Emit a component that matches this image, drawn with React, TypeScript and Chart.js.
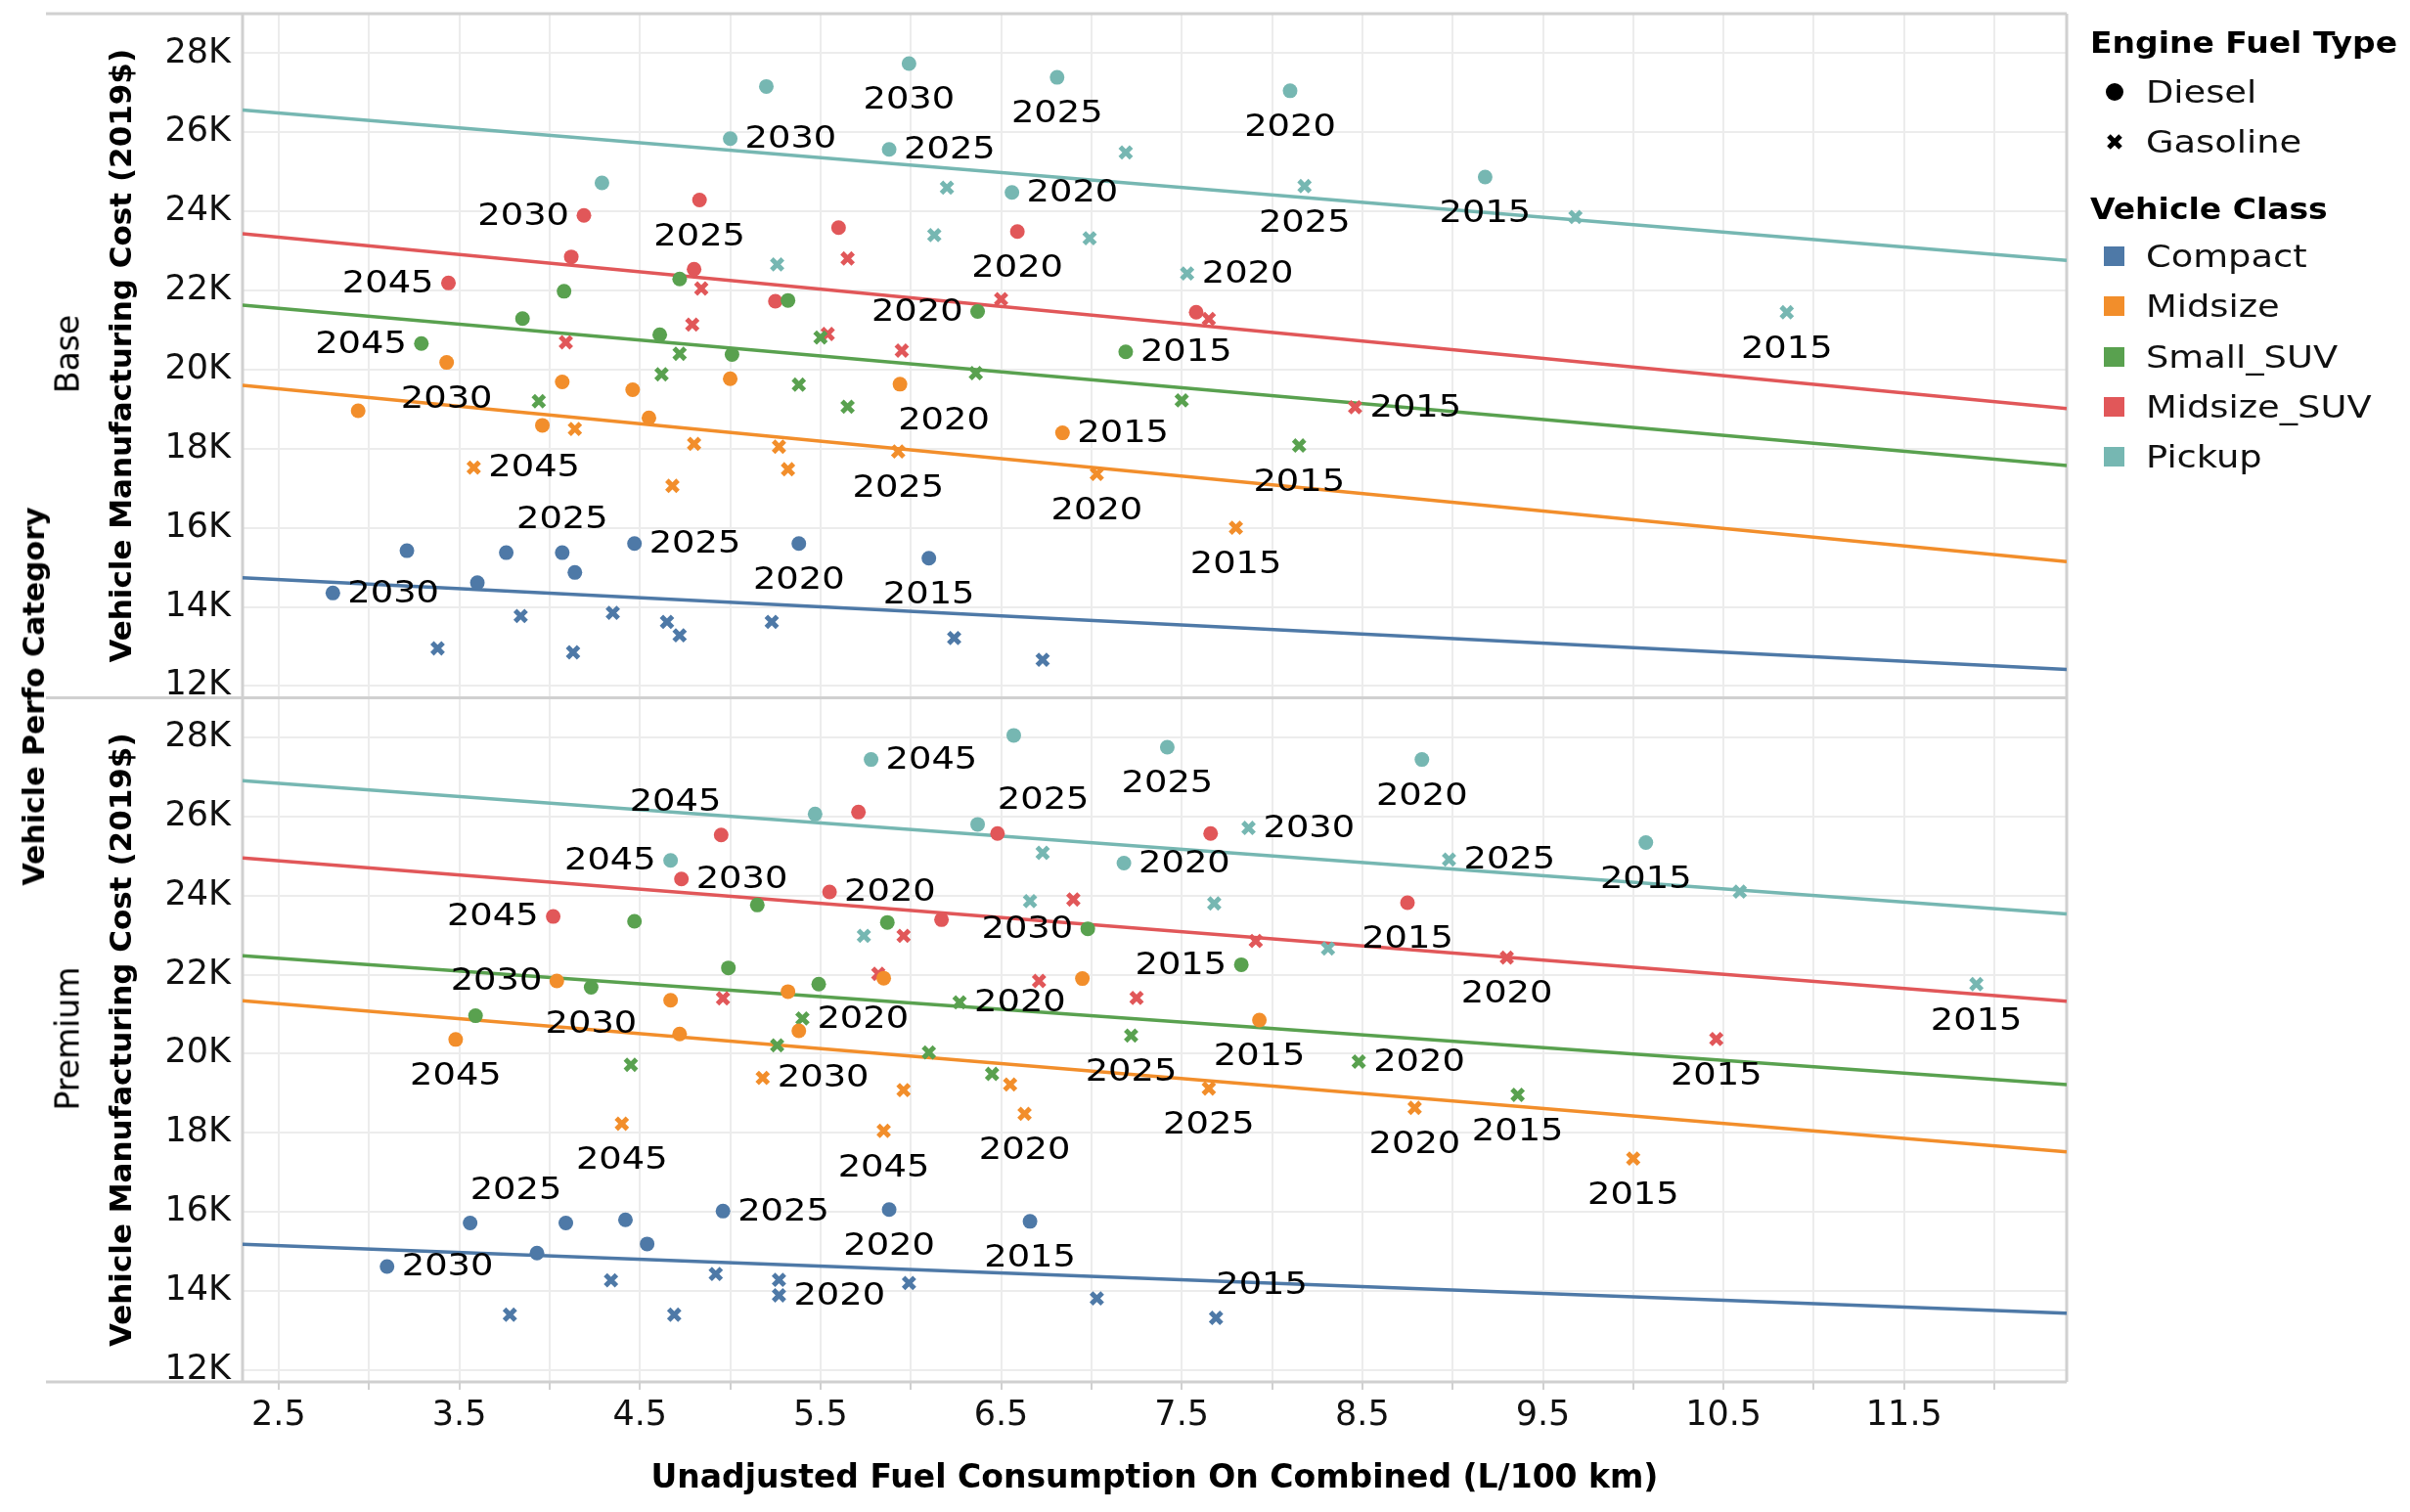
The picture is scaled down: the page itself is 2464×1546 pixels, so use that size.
import React, { useEffect, useRef } from 'react';
import { Chart, registerables } from 'chart.js';

Chart.register(...registerables);

type Pt = [number, number];
type Lbl = [string, string, number, string];

const FONT = '"DejaVu Sans", sans-serif';

// ---------- categories ----------
const PANELS = ['Base', 'Premium'];
const CLASSES = ['Compact', 'Midsize', 'Small_SUV', 'Midsize_SUV', 'Pickup'];
const CLASS_COLORS = ['#4e79a7', '#f28e2b', '#59a14f', '#e15759', '#76b7b2'];
const FUELS = ['Diesel', 'Gasoline'];

// ---------- axes ----------
const X_RANGE = [2.3, 12.4];
const Y_RANGE = [11700, 29000];
const X_GRID = [2.5, 3, 3.5, 4, 4.5, 5, 5.5, 6, 6.5, 7, 7.5, 8, 8.5, 9, 9.5, 10, 10.5, 11, 11.5, 12];
const X_TICK_LABELS = ['2.5', '3.5', '4.5', '5.5', '6.5', '7.5', '8.5', '9.5', '10.5', '11.5'];
const Y_TICKS = [12000, 14000, 16000, 18000, 20000, 22000, 24000, 26000, 28000];

const X_TITLE = 'Unadjusted Fuel Consumption On Combined (L/100 km)';
const Y_TITLE = 'Vehicle Manufacturing Cost (2019$)';
const ROW_TITLE = 'Vehicle Perfo Category';
const LEGEND_FUEL_TITLE = 'Engine Fuel Type';
const LEGEND_CLASS_TITLE = 'Vehicle Class';

// ---------- Base panel: [fuel consumption L/100km, cost 2019$] ----------
const BASE_COMPACT_DIESEL: Pt[] = [[2.80, 14350], [3.21, 15420], [3.60, 14610], [3.76, 15370], [4.07, 15370], [4.14, 14870], [4.47, 15600], [5.38, 15600], [6.10, 15230]];
const BASE_COMPACT_GASOLINE: Pt[] = [[3.38, 12950], [3.84, 13770], [4.13, 12850], [4.35, 13850], [4.65, 13620], [4.72, 13280], [5.23, 13620], [6.24, 13210], [6.73, 12660]];
const BASE_MIDSIZE_DIESEL: Pt[] = [[2.94, 18960], [3.43, 20180], [3.96, 18590], [4.07, 19690], [4.46, 19490], [4.55, 18780], [5.00, 19770], [5.94, 19630], [6.84, 18400]];
const BASE_MIDSIZE_GASOLINE: Pt[] = [[3.58, 17520], [4.14, 18500], [4.80, 18120], [4.68, 17060], [5.27, 18050], [5.32, 17480], [5.93, 17930], [7.03, 17360], [7.80, 16000]];
const BASE_SMALLSUV_DIESEL: Pt[] = [[3.29, 20660], [3.85, 21290], [4.08, 21980], [4.61, 20880], [4.72, 22290], [5.32, 21750], [5.01, 20380], [6.37, 21470], [7.19, 20450]];
const BASE_SMALLSUV_GASOLINE: Pt[] = [[3.94, 19200], [4.62, 19880], [4.72, 20400], [5.38, 19620], [5.50, 20810], [5.65, 19060], [6.36, 19910], [7.50, 19220], [8.15, 18080]];
const BASE_MIDSUV_DIESEL: Pt[] = [[3.44, 22190], [4.19, 23900], [4.12, 22850], [4.83, 24290], [4.80, 22540], [5.25, 21730], [5.60, 23590], [6.59, 23490], [7.58, 21450]];
const BASE_MIDSUV_GASOLINE: Pt[] = [[4.09, 20690], [4.84, 22050], [4.79, 21140], [5.54, 20900], [5.65, 22810], [5.95, 20480], [6.50, 21780], [7.65, 21280], [8.46, 19050]];
const BASE_PICKUP_DIESEL: Pt[] = [[4.29, 24720], [5.00, 25840], [5.20, 27160], [5.88, 25570], [5.99, 27740], [6.56, 24480], [6.81, 27390], [8.10, 27050], [9.18, 24870]];
const BASE_PICKUP_GASOLINE: Pt[] = [[5.26, 22660], [6.20, 24600], [6.13, 23400], [6.99, 23320], [7.19, 25490], [7.53, 22430], [8.18, 24640], [9.68, 23860], [10.85, 21450]];

// ---------- Premium panel ----------
const PREM_COMPACT_DIESEL: Pt[] = [[3.10, 14620], [3.56, 15720], [3.93, 14960], [4.09, 15720], [4.42, 15800], [4.54, 15190], [4.96, 16020], [5.88, 16060], [6.66, 15760]];
const PREM_COMPACT_GASOLINE: Pt[] = [[3.78, 13400], [4.34, 14270], [4.69, 13400], [4.92, 14430], [5.27, 14280], [5.27, 13890], [5.99, 14200], [7.03, 13810], [7.69, 13320]];
const PREM_MIDSIZE_DIESEL: Pt[] = [[3.48, 20360], [4.04, 21840], [4.67, 21350], [4.72, 20500], [5.32, 21570], [5.38, 20580], [5.85, 21910], [6.95, 21900], [7.93, 20850]];
const PREM_MIDSIZE_GASOLINE: Pt[] = [[4.40, 18230], [5.18, 19390], [5.85, 18050], [5.96, 19080], [6.55, 19220], [6.63, 18480], [7.65, 19120], [8.79, 18630], [10.00, 17350]];
const PREM_SMALLSUV_DIESEL: Pt[] = [[3.59, 20960], [4.23, 21680], [4.47, 23350], [4.99, 22170], [5.15, 23760], [5.49, 21760], [5.87, 23320], [6.98, 23160], [7.83, 22250]];
const PREM_SMALLSUV_GASOLINE: Pt[] = [[4.45, 19720], [5.40, 20890], [5.26, 20210], [6.10, 20030], [6.27, 21300], [6.45, 19490], [7.22, 20460], [8.48, 19800], [9.36, 18960]];
const PREM_MIDSUV_DIESEL: Pt[] = [[4.02, 23470], [4.73, 24420], [4.95, 25530], [5.71, 26110], [5.55, 24090], [6.17, 23390], [6.48, 25570], [7.66, 25570], [8.75, 23820]];
const PREM_MIDSUV_GASOLINE: Pt[] = [[4.96, 21400], [5.82, 22020], [5.96, 22980], [6.71, 21840], [6.90, 23900], [7.25, 21410], [7.91, 22850], [9.30, 22430], [10.46, 20370]];
const PREM_PICKUP_DIESEL: Pt[] = [[4.67, 24890], [5.47, 26060], [5.78, 27440], [6.37, 25800], [6.57, 28050], [7.18, 24820], [7.42, 27750], [8.83, 27440], [10.07, 25340]];
const PREM_PICKUP_GASOLINE: Pt[] = [[5.74, 22980], [6.73, 25080], [6.66, 23860], [7.68, 23800], [7.87, 25710], [8.31, 22660], [8.98, 24910], [10.59, 24100], [11.90, 21760]];

// ---------- year labels: [class, fuel, point index, year] ----------
const BASE_LABELS: Lbl[] = [
  ['Compact', 'Diesel', 0, '2030'], ['Compact', 'Diesel', 4, '2025'], ['Compact', 'Diesel', 6, '2025'], ['Compact', 'Diesel', 7, '2020'], ['Compact', 'Diesel', 8, '2015'],
  ['Midsize', 'Diesel', 1, '2030'], ['Midsize', 'Diesel', 7, '2020'], ['Midsize', 'Diesel', 8, '2015'],
  ['Midsize', 'Gasoline', 0, '2045'], ['Midsize', 'Gasoline', 6, '2025'], ['Midsize', 'Gasoline', 7, '2020'], ['Midsize', 'Gasoline', 8, '2015'],
  ['Small_SUV', 'Diesel', 0, '2045'], ['Small_SUV', 'Diesel', 7, '2020'], ['Small_SUV', 'Diesel', 8, '2015'],
  ['Small_SUV', 'Gasoline', 8, '2015'],
  ['Midsize_SUV', 'Diesel', 0, '2045'], ['Midsize_SUV', 'Diesel', 1, '2030'], ['Midsize_SUV', 'Diesel', 3, '2025'], ['Midsize_SUV', 'Diesel', 7, '2020'],
  ['Midsize_SUV', 'Gasoline', 8, '2015'],
  ['Pickup', 'Diesel', 1, '2030'], ['Pickup', 'Diesel', 3, '2025'], ['Pickup', 'Diesel', 4, '2030'], ['Pickup', 'Diesel', 5, '2020'], ['Pickup', 'Diesel', 6, '2025'], ['Pickup', 'Diesel', 7, '2020'], ['Pickup', 'Diesel', 8, '2015'],
  ['Pickup', 'Gasoline', 5, '2020'], ['Pickup', 'Gasoline', 6, '2025'], ['Pickup', 'Gasoline', 8, '2015'],
];
const BASE_LABEL_ALIGN = [
  'R', 'A', 'R', 'B', 'B',
  'B', 'BR', 'R',
  'R', 'B', 'B', 'B',
  'L', 'L', 'R',
  'B',
  'L', 'L', 'B', 'B',
  'R',
  'R', 'R', 'B', 'R', 'B', 'B', 'B',
  'R', 'B', 'B',
];
const PREM_LABELS: Lbl[] = [
  ['Compact', 'Diesel', 0, '2030'], ['Compact', 'Diesel', 1, '2025'], ['Compact', 'Diesel', 6, '2025'], ['Compact', 'Diesel', 7, '2020'], ['Compact', 'Diesel', 8, '2015'],
  ['Compact', 'Gasoline', 5, '2020'], ['Compact', 'Gasoline', 8, '2015'],
  ['Midsize', 'Diesel', 0, '2045'], ['Midsize', 'Diesel', 1, '2030'], ['Midsize', 'Diesel', 8, '2015'],
  ['Midsize', 'Gasoline', 0, '2045'], ['Midsize', 'Gasoline', 1, '2030'], ['Midsize', 'Gasoline', 2, '2045'], ['Midsize', 'Gasoline', 5, '2020'], ['Midsize', 'Gasoline', 6, '2025'], ['Midsize', 'Gasoline', 7, '2020'], ['Midsize', 'Gasoline', 8, '2015'],
  ['Small_SUV', 'Diesel', 1, '2030'], ['Small_SUV', 'Diesel', 7, '2030'], ['Small_SUV', 'Diesel', 8, '2015'],
  ['Small_SUV', 'Gasoline', 1, '2020'], ['Small_SUV', 'Gasoline', 4, '2020'], ['Small_SUV', 'Gasoline', 6, '2025'], ['Small_SUV', 'Gasoline', 7, '2020'], ['Small_SUV', 'Gasoline', 8, '2015'],
  ['Midsize_SUV', 'Diesel', 0, '2045'], ['Midsize_SUV', 'Diesel', 1, '2030'], ['Midsize_SUV', 'Diesel', 2, '2045'], ['Midsize_SUV', 'Diesel', 4, '2020'], ['Midsize_SUV', 'Diesel', 6, '2025'], ['Midsize_SUV', 'Diesel', 8, '2015'],
  ['Midsize_SUV', 'Gasoline', 7, '2020'], ['Midsize_SUV', 'Gasoline', 8, '2015'],
  ['Pickup', 'Diesel', 0, '2045'], ['Pickup', 'Diesel', 2, '2045'], ['Pickup', 'Diesel', 5, '2020'], ['Pickup', 'Diesel', 6, '2025'], ['Pickup', 'Diesel', 7, '2020'], ['Pickup', 'Diesel', 8, '2015'],
  ['Pickup', 'Gasoline', 4, '2030'], ['Pickup', 'Gasoline', 6, '2025'], ['Pickup', 'Gasoline', 8, '2015'],
];
const PREM_LABEL_ALIGN = [
  'R', 'AR', 'R', 'B', 'B',
  'R', 'AR',
  'B', 'L', 'B',
  'B', 'R', 'B', 'B', 'B', 'B', 'B',
  'B', 'L', 'L',
  'R', 'R', 'B', 'R', 'B',
  'L', 'R', 'AL', 'R', 'AR', 'B',
  'B', 'B',
  'L', 'R', 'R', 'B', 'B', 'B',
  'R', 'R', 'B',
];

// ---------- assembled tables (built from the arrays above) ----------
const PANEL_DATA: Pt[][][][] = [
  [
    [BASE_COMPACT_DIESEL, BASE_COMPACT_GASOLINE],
    [BASE_MIDSIZE_DIESEL, BASE_MIDSIZE_GASOLINE],
    [BASE_SMALLSUV_DIESEL, BASE_SMALLSUV_GASOLINE],
    [BASE_MIDSUV_DIESEL, BASE_MIDSUV_GASOLINE],
    [BASE_PICKUP_DIESEL, BASE_PICKUP_GASOLINE],
  ],
  [
    [PREM_COMPACT_DIESEL, PREM_COMPACT_GASOLINE],
    [PREM_MIDSIZE_DIESEL, PREM_MIDSIZE_GASOLINE],
    [PREM_SMALLSUV_DIESEL, PREM_SMALLSUV_GASOLINE],
    [PREM_MIDSUV_DIESEL, PREM_MIDSUV_GASOLINE],
    [PREM_PICKUP_DIESEL, PREM_PICKUP_GASOLINE],
  ],
];
const PANEL_LABELS = [BASE_LABELS, PREM_LABELS];
const PANEL_LABEL_ALIGN = [BASE_LABEL_ALIGN, PREM_LABEL_ALIGN];
const AXIS_IDS = ['yBase', 'yPrem'];

const SX = 1.15; // horizontal stretch of horizontal text in the reference

function linearFit(pts: Pt[]): [number, number] {
  const n = pts.length;
  let sx = 0, sy = 0, sxx = 0, sxy = 0;
  for (const [x, y] of pts) { sx += x; sy += y; sxx += x * x; sxy += x * y; }
  const b = (n * sxy - sx * sy) / (n * sxx - sx * sx);
  const a = (sy - b * sx) / n;
  return [a, b];
}

function buildDatasets() {
  const ds: any[] = [];
  PANEL_DATA.forEach((panel, pi) => {
    panel.forEach((fuels, ci) => {
      const color = CLASS_COLORS[ci];
      const [a, b] = linearFit(fuels[0].concat(fuels[1]));
      ds.push({
        label: `${PANELS[pi]} ${CLASSES[ci]} trend`,
        data: X_RANGE.map((x) => ({ x, y: a + b * x })),
        yAxisID: AXIS_IDS[pi],
        showLine: true,
        pointRadius: 0,
        borderColor: color,
        backgroundColor: color,
        borderWidth: 3.5,
        order: 2,
      });
      fuels.forEach((pts, fi) => {
        ds.push({
          label: `${PANELS[pi]} ${CLASSES[ci]} ${FUELS[fi]}`,
          data: pts.map(([x, y]) => ({ x, y })),
          yAxisID: AXIS_IDS[pi],
          pointStyle: fi === 0 ? 'circle' : 'crossRot',
          pointRadius: fi === 0 ? 7.5 : 8,
          backgroundColor: color,
          borderColor: color,
          borderWidth: fi === 0 ? 0 : 5,
          order: 1,
        });
      });
    });
  });
  return ds;
}

const framePlugin = {
  id: 'tableauFrame',
  beforeDatasetsDraw(chart: any) {
    const { ctx, chartArea: a } = chart;
    const mid = chart.scales.yBase.bottom;
    ctx.save();
    ctx.strokeStyle = '#d0d0d0';
    ctx.lineWidth = 3;
    ctx.beginPath();
    for (const y of [a.top, mid, a.bottom]) {
      ctx.moveTo(47, y);
      ctx.lineTo(a.right, y);
    }
    ctx.moveTo(a.left, a.top);
    ctx.lineTo(a.left, a.bottom);
    ctx.moveTo(a.right, a.top);
    ctx.lineTo(a.right, a.bottom);
    ctx.stroke();
    ctx.restore();
  },
};

const labelPlugin = {
  id: 'yearLabels',
  afterDatasetsDraw(chart: any) {
    const ctx = chart.ctx;
    const xs = chart.scales.x;
    ctx.save();
    ctx.font = `32px ${FONT}`;
    ctx.fillStyle = '#000';
    ctx.textBaseline = 'middle';
    ctx.textAlign = 'left';
    PANEL_LABELS.forEach((labels, pi) => {
      const ys = chart.scales[AXIS_IDS[pi]];
      const aligns = PANEL_LABEL_ALIGN[pi];
      labels.forEach(([cls, fuel, idx, text], li) => {
        const pts = PANEL_DATA[pi][CLASSES.indexOf(cls)][FUELS.indexOf(fuel)];
        const [xv, yv] = pts[idx];
        const px = xs.getPixelForValue(xv);
        const py = ys.getPixelForValue(yv);
        const w = ctx.measureText(text).width * SX;
        let left = px;
        let cy = py;
        switch (aligns[li]) {
          case 'R': left = px + 15; break;
          case 'L': left = px - 15 - w; break;
          case 'B': left = px - w / 2; cy = py + 37; break;
          case 'A': left = px - w / 2; cy = py - 34; break;
          case 'BR': left = px - 2; cy = py + 37; break;
          case 'AR': left = px; cy = py - 34; break;
          case 'AL': left = px - w; cy = py - 34; break;
        }
        ctx.save();
        ctx.translate(left, cy + 1);
        ctx.scale(SX, 1);
        ctx.fillText(text, 0, 0);
        ctx.restore();
      });
    });
    ctx.restore();
  },
};

function yScale(weight: number) {
  return {
    type: 'linear',
    position: 'left',
    stack: 'panels',
    stackWeight: 1,
    weight,
    min: Y_RANGE[0],
    max: Y_RANGE[1],
    afterBuildTicks: (s: any) => { s.ticks = Y_TICKS.map((v) => ({ value: v })); },
    afterFit: (s: any) => {
      s.width = 248;
      s.paddingTop = 0;
      s.paddingBottom = 0;
      s.paddingLeft = 0;
      s.paddingRight = 0;
    },
    ticks: {
      callback: (v: any) => `${Math.round(Number(v) / 1000)}K`,
      font: { family: FONT, size: 35 },
      color: '#111',
      padding: 12,
    },
    grid: { color: '#ececec', lineWidth: 2, drawTicks: false },
    border: { display: false },
    title: {
      display: true,
      text: Y_TITLE,
      font: { family: FONT, size: 31, weight: 'bold' },
      color: '#000',
      padding: { top: 107, bottom: 0 },
    },
  };
}

export default function App() {
  const ref = useRef<HTMLCanvasElement>(null);

  useEffect(() => {
    if (!ref.current) return;
    const chart = new Chart(ref.current, {
      type: 'scatter',
      data: { datasets: buildDatasets() },
      options: {
        responsive: false,
        maintainAspectRatio: false,
        animation: false,
        devicePixelRatio: 1,
        events: [],
        layout: { padding: { left: 0, right: 351, top: 14, bottom: 0 } },
        plugins: { legend: { display: false }, tooltip: { enabled: false } },
        scales: {
          x: {
            type: 'linear',
            min: X_RANGE[0],
            max: X_RANGE[1],
            afterBuildTicks: (s: any) => { s.ticks = X_GRID.map((v) => ({ value: v })); },
            afterFit: (s: any) => {
              s.height = 133;
              s.paddingLeft = 0;
              s.paddingRight = 0;
              s.paddingTop = 0;
              s.paddingBottom = 0;
            },
            ticks: {
              callback: (v: any) => X_TICK_LABELS.find((l) => Math.abs(parseFloat(l) - Number(v)) < 1e-9) ?? '',
              autoSkip: false,
              maxRotation: 0,
              font: { family: FONT, size: 35 },
              color: '#111',
              padding: 6,
            },
            grid: { color: '#ececec', lineWidth: 2, drawTicks: true, tickLength: 8, tickColor: '#d0d0d0', tickWidth: 2 },
            border: { display: false },
            title: {
              display: true,
              text: X_TITLE,
              font: { family: FONT, size: 33, weight: 'bold' },
              color: '#000',
              padding: { top: 0, bottom: 14 },
            },
          },
          yPrem: yScale(0),
          yBase: yScale(1),
        },
      } as any,
      plugins: [framePlugin, labelPlugin],
    } as any);
    return () => chart.destroy();
  }, []);

  const rot = (cx: number, cy: number, text: string, size: number, bold: boolean) => (
    <div
      style={{
        position: 'absolute',
        left: cx,
        top: cy,
        transform: 'translate(-50%, -50%) rotate(-90deg)',
        whiteSpace: 'nowrap',
        fontFamily: FONT,
        fontSize: size,
        fontWeight: bold ? 'bold' : 'normal',
        color: '#000',
        lineHeight: 1,
      }}
    >
      {text}
    </div>
  );

  const legText = (left: number, cy: number, text: string, bold: boolean, size: number) => (
    <div
      style={{
        position: 'absolute',
        left,
        top: cy,
        transform: `translateY(-50%) scaleX(${bold ? 1.1 : SX})`,
        transformOrigin: 'left center',
        whiteSpace: 'nowrap',
        fontFamily: FONT,
        fontSize: size,
        fontWeight: bold ? 'bold' : 'normal',
        color: bold ? '#000' : '#111',
        lineHeight: 1,
      }}
    >
      {text}
    </div>
  );

  const CLASS_ROW_Y = [262, 313, 365, 416, 467];

  return (
    <div style={{ position: 'absolute', left: 0, top: 0, width: 2464, height: 1546, background: '#fff', overflow: 'hidden' }}>
      <canvas ref={ref} width={2464} height={1546} style={{ position: 'absolute', left: 0, top: 0, width: 2464, height: 1546 }} />
      {rot(35, 712, ROW_TITLE, 30, true)}
      {rot(69, 362, PANELS[0], 33, false)}
      {rot(69, 1062, PANELS[1], 33, false)}

      {legText(2137, 44, LEGEND_FUEL_TITLE, true, 30)}
      <div style={{ position: 'absolute', left: 2153, top: 85, width: 18, height: 18, borderRadius: 9, background: '#000' }} />
      {legText(2194, 94, FUELS[0], false, 32)}
      <svg style={{ position: 'absolute', left: 2152, top: 135 }} width={20} height={20}>
        <path d="M4 4 L16 16 M16 4 L4 16" stroke="#000" strokeWidth={5} />
      </svg>
      {legText(2194, 145, FUELS[1], false, 32)}

      {legText(2137, 214, LEGEND_CLASS_TITLE, true, 30)}
      {CLASSES.map((c, i) => (
        <React.Fragment key={c}>
          <div style={{ position: 'absolute', left: 2151, top: CLASS_ROW_Y[i] - 10, width: 21, height: 20, background: CLASS_COLORS[i] }} />
          {legText(2194, CLASS_ROW_Y[i], c, false, 32)}
        </React.Fragment>
      ))}
    </div>
  );
}
